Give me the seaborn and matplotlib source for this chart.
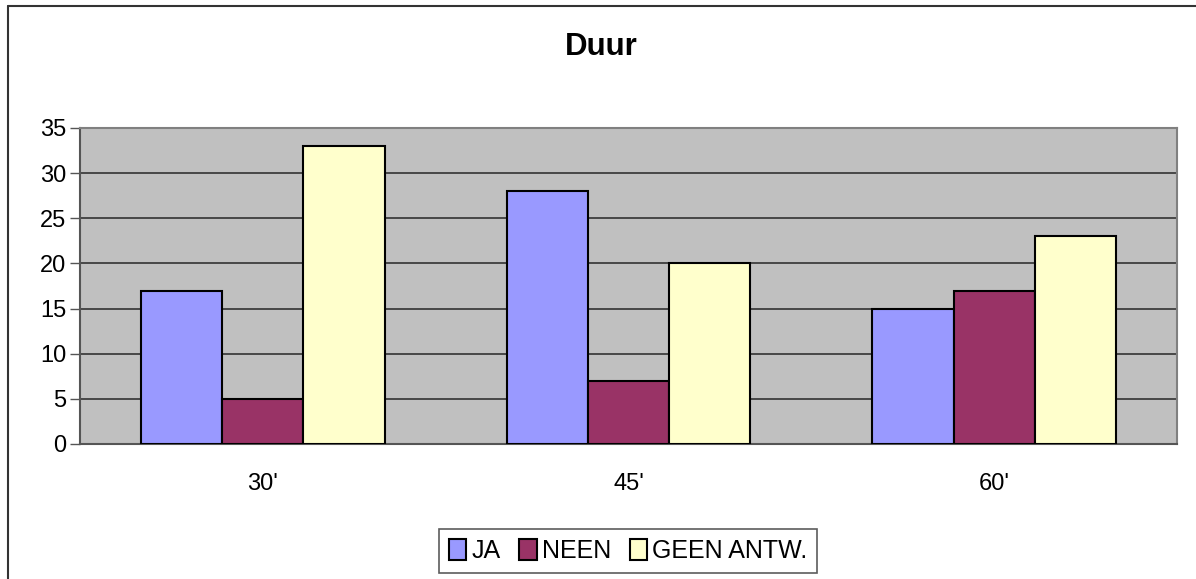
import pandas as pd
import matplotlib.pyplot as plt
import matplotlib.lines as mlines
import seaborn as sns

categories = ["30'", "45'", "60'"]
series = ["JA", "NEEN", "GEEN ANTW."]
ja = [17, 28, 15]
neen = [5, 7, 17]
geen = [33, 20, 23]
colors = ["#9999FF", "#993366", "#FFFFCC"]

df = pd.DataFrame({
    "duur": categories * 3,
    "antwoord": [s for s in series for _ in categories],
    "aantal": ja + neen + geen,
})

sns.set_style("white")
plt.rcParams["font.family"] = ["Liberation Sans", "DejaVu Sans"]
plt.rcParams["text.color"] = "black"
plt.rcParams["xtick.color"] = "black"
plt.rcParams["ytick.color"] = "black"

fig = plt.figure(figsize=(11.96, 5.79), dpi=100)
ax = fig.add_axes([80 / 1196, 1 - 444 / 579, 1097 / 1196, 316 / 579])
ax.set_facecolor("#C0C0C0")

sns.barplot(data=df, x="duur", y="aantal", hue="antwoord", hue_order=series,
            palette=colors, width=0.667, saturation=1, edgecolor="black",
            linewidth=1.5, ax=ax, zorder=3)

ax.set_ylim(0, 35)
ax.set_yticks(range(0, 36, 5))
ax.set_xlim(-0.5, 2.5)
ax.yaxis.grid(True, color="#333333", linewidth=1.2, zorder=0)
ax.set_axisbelow(True)
ax.set_xlabel("")
ax.set_ylabel("")

# category ticks sit on the boundaries
ax.set_xticks([0, 1, 2])
ax.set_xticklabels(categories)
ax.tick_params(axis="x", length=0, pad=21, labelsize=17)
ax.set_xticks([-0.5, 0.5, 1.5, 2.5], minor=True)
ax.tick_params(axis="x", which="minor", length=7, color="#555555", width=1)
ax.tick_params(axis="y", length=7, color="#555555", labelcolor="black", width=1,
               labelsize=17, pad=3, left=True)

for side in ["top", "right"]:
    ax.spines[side].set_color("#808080")
    ax.spines[side].set_linewidth(1.5)
for side in ["left", "bottom"]:
    ax.spines[side].set_color("#555555")
    ax.spines[side].set_linewidth(1.5)

fig.text(601 / 1196, 1 - 47 / 579, "Duur", ha="center", va="center",
         fontsize=22.5, fontweight="bold", color="black")

handles, labels = ax.get_legend_handles_labels()
ax.legend_.remove()
leg = fig.legend(handles, labels, loc="center", bbox_to_anchor=(628 / 1196, 1 - 551 / 579),
                 ncol=3, frameon=True, fancybox=False, edgecolor="#333333",
                 fontsize=18, handlelength=0.7, handleheight=0.9, handletextpad=0.2,
                 columnspacing=0.75, borderpad=0.4)
leg.get_frame().set_linewidth(1.2)

# outer chart border (top and left visible)
fig.add_artist(mlines.Line2D([8 / 1196, 1], [1 - 6 / 579, 1 - 6 / 579], color="#333333", linewidth=1.5))
fig.add_artist(mlines.Line2D([8 / 1196, 8 / 1196], [0, 1 - 6 / 579], color="#333333", linewidth=1.5))

fig.savefig("out.png", dpi=100)
